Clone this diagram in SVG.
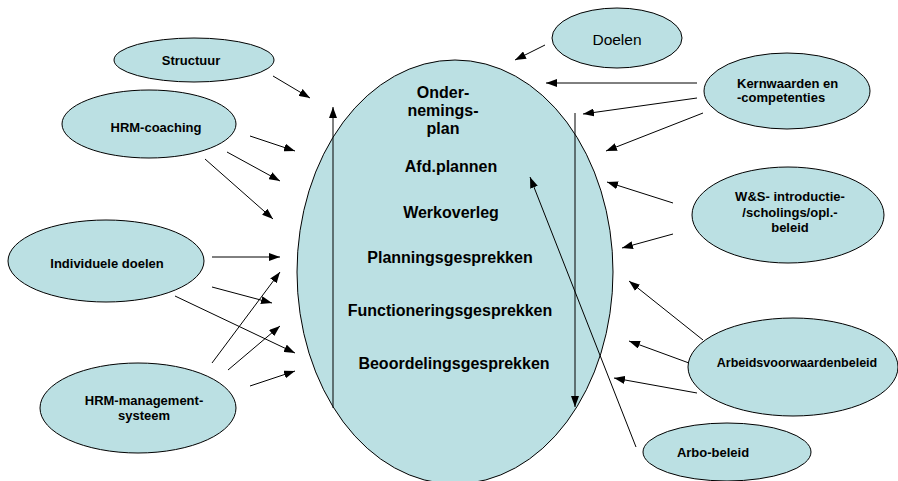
<svg xmlns="http://www.w3.org/2000/svg" width="898" height="481" viewBox="0 0 898 481">
<style>
.n{fill:#bbe0e3;stroke:#000;stroke-width:1}
.t{font-family:"Liberation Sans",Arial,sans-serif;font-weight:bold;font-size:13px;fill:#000;text-anchor:middle}
.b{font-family:"Liberation Sans",Arial,sans-serif;font-weight:bold;font-size:16px;fill:#000;text-anchor:middle}
.c line{stroke:#000;stroke-width:1;marker-end:url(#ah)}
</style>
<defs>
<marker id="ah" markerUnits="userSpaceOnUse" markerWidth="11" markerHeight="8" refX="11" refY="4" orient="auto">
<path d="M0,0 L11,4 L0,8 z" fill="#000"/>
</marker>
</defs>
<rect width="898" height="481" fill="#fff"/>
<g id="main">
<ellipse class="n" cx="455" cy="272" rx="158" ry="212"/>
<text class="b" x="443" y="98">Onder-</text>
<text class="b" x="443" y="116">nemings-</text>
<text class="b" x="443" y="134">plan</text>
<text class="b" x="451" y="172">Afd.plannen</text>
<text class="b" x="451" y="218">Werkoverleg</text>
<text class="b" x="450" y="263">Planningsgesprekken</text>
<text class="b" x="450" y="316">Functioneringsgesprekken</text>
<text class="b" x="454" y="369">Beoordelingsgesprekken</text>
</g>
<g id="structuur"><ellipse class="n" cx="194" cy="60" rx="80" ry="22"/><text class="t" x="191" y="65">Structuur</text></g>
<g id="hrm-coaching"><ellipse class="n" cx="149" cy="124" rx="87" ry="34"/><text class="t" x="156" y="132">HRM-coaching</text></g>
<g id="individuele-doelen"><ellipse class="n" cx="106" cy="261" rx="98" ry="41"/><text class="t" x="107" y="268">Individuele doelen</text></g>
<g id="hrm-management"><ellipse class="n" cx="138" cy="408" rx="98" ry="45"/><text class="t" x="144" y="405">HRM-management-</text><text class="t" x="144" y="420">systeem</text></g>
<g id="doelen"><ellipse class="n" cx="617" cy="38" rx="65" ry="30"/><text x="617" y="45" style="font-family:'Liberation Sans',Arial,sans-serif;font-size:15.5px;text-anchor:middle">Doelen</text></g>
<g id="kernwaarden"><ellipse class="n" cx="787" cy="91" rx="83" ry="38"/><text class="t" x="737" y="88" style="text-anchor:start">Kernwaarden en</text><text class="t" x="737" y="102" style="text-anchor:start">-competenties</text></g>
<g id="ws"><ellipse class="n" cx="788" cy="215" rx="96" ry="48"/><text class="t" x="790" y="201">W&amp;S- introductie-</text><text class="t" x="790" y="216.5">/scholings/opl.-</text><text class="t" x="790" y="232">beleid</text></g>
<g id="arbeidsvoorwaarden"><ellipse class="n" cx="793" cy="367" rx="105" ry="49"/><text class="t" x="797" y="367" style="font-size:12.5px">Arbeidsvoorwaardenbeleid</text></g>
<g id="arbo"><ellipse class="n" cx="727" cy="452" rx="84" ry="29"/><text class="t" x="713" y="457">Arbo-beleid</text></g>
<g id="connectors" class="c">
<line x1="333" y1="408" x2="333" y2="107"/>
<line x1="575" y1="113" x2="575" y2="407"/>
<line x1="636" y1="447" x2="530" y2="177"/>
<line x1="273" y1="76" x2="310" y2="98"/>
<line x1="250" y1="136" x2="295" y2="151"/>
<line x1="227" y1="152" x2="280" y2="181"/>
<line x1="205" y1="159" x2="273" y2="219"/>
<line x1="212" y1="257" x2="280" y2="257"/>
<line x1="212" y1="287" x2="272" y2="303"/>
<line x1="175" y1="296" x2="295" y2="353"/>
<line x1="212" y1="363" x2="280" y2="272"/>
<line x1="228" y1="370" x2="280" y2="326"/>
<line x1="250" y1="386" x2="295" y2="371"/>
<line x1="545" y1="45" x2="515" y2="60"/>
<line x1="697" y1="83" x2="546" y2="83"/>
<line x1="697" y1="98" x2="583" y2="114"/>
<line x1="703" y1="113" x2="606" y2="151"/>
<line x1="673" y1="203" x2="607" y2="182"/>
<line x1="673" y1="234" x2="622" y2="248"/>
<line x1="703" y1="340" x2="629" y2="281"/>
<line x1="689" y1="363" x2="629" y2="341"/>
<line x1="697" y1="393" x2="614" y2="378"/>
</g>
</svg>
